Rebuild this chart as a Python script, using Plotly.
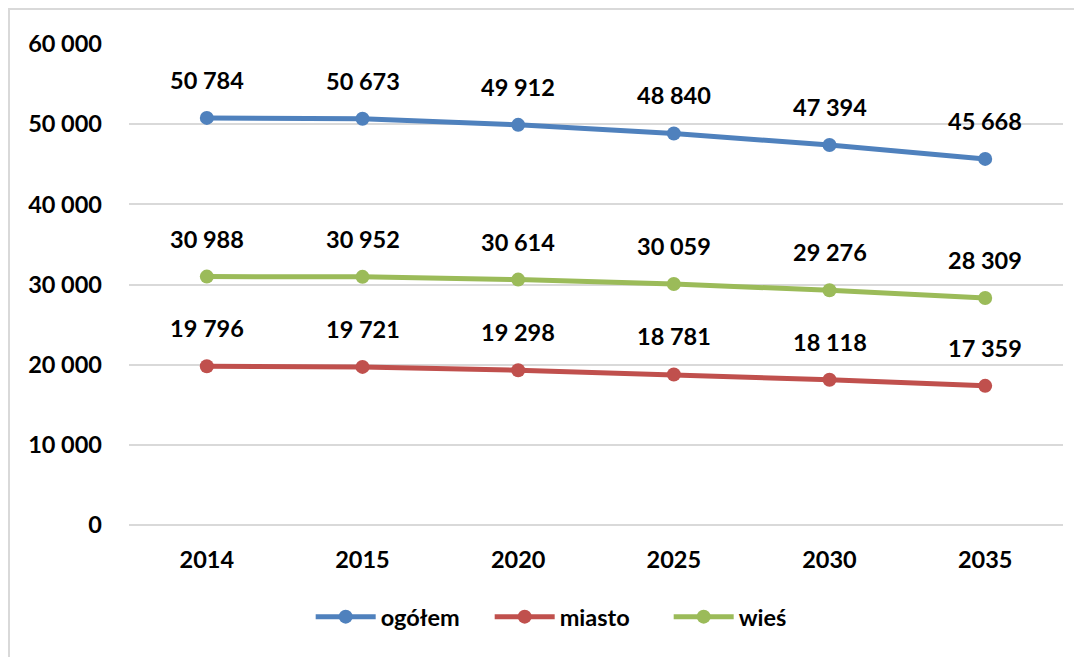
import plotly.graph_objects as go

years = ["2014", "2015", "2020", "2025", "2030", "2035"]
ogolem = [50784, 50673, 49912, 48840, 47394, 45668]
miasto = [19796, 19721, 19298, 18781, 18118, 17359]
wies = [30988, 30952, 30614, 30059, 29276, 28309]
y_ticks = [0, 10000, 20000, 30000, 40000, 50000, 60000]
y_tick_labels = ["0", "10 000", "20 000", "30 000", "40 000", "50 000", "60 000"]

series = [
    ("ogółem", ogolem, "#4F81BD"),
    ("miasto", miasto, "#C0504D"),
    ("wieś", wies, "#9BBB59"),
]

FONT = "Lato"
FS = 23.5
fig = go.Figure()
annotations = []
for name, vals, color in series:
    fig.add_trace(go.Scatter(
        x=years, y=vals, name=name, mode="lines+markers",
        line=dict(color=color, width=5),
        marker=dict(color=color, size=14),
    ))
    for i, v in enumerate(vals):
        annotations.append(dict(
            x=i, y=v, xref="x", yref="y", showarrow=False,
            text=f"{v:,}".replace(",", " "), yshift=38,
            font=dict(family=FONT, size=FS, color="#000000", weight="bold"),
        ))

# page has an 8px body margin; figure is sized/offset accordingly
fig.update_layout(
    width=1074, height=649,
    margin=dict(l=121, r=19, t=36, b=132),
    paper_bgcolor="white", plot_bgcolor="white",
    annotations=annotations,
    showlegend=True,
    legend=dict(
        orientation="h", x=0.482, xanchor="center", y=-0.191, yanchor="middle",
        font=dict(family=FONT, size=FS, color="#000000", weight="bold"),
        itemwidth=60, entrywidth=104, entrywidthmode="pixels", tracegroupgap=0,
    ),
    shapes=[
        dict(type="line", xref="paper", yref="paper",
             x0=-121 / 934, x1=1.2,
             y0=(481 + 35) / 481, y1=(481 + 35) / 481,
             line=dict(color="#D9D9D9", width=2)),
        dict(type="line", xref="paper", yref="paper",
             x0=-120 / 934, x1=-120 / 934,
             y0=(481 + 35) / 481, y1=-0.4,
             line=dict(color="#D9D9D9", width=2)),
    ],
)
fig.update_xaxes(
    type="category", range=[-0.5, 5.5], showgrid=False, zeroline=False,
    showline=False, ticks="", ticklabelstandoff=18,
    tickfont=dict(family=FONT, size=FS, color="#000000", weight="bold"),
)
fig.update_yaxes(
    range=[0, 60000], tickvals=y_ticks, ticktext=y_tick_labels,
    showgrid=True, gridcolor="#D9D9D9", gridwidth=1.5,
    zeroline=True, zerolinecolor="#D9D9D9", zerolinewidth=1.5,
    showline=False, ticks="", ticklabelstandoff=26,
    tickfont=dict(family=FONT, size=FS, color="#000000", weight="bold"),
)
fig.write_html("out.html")
